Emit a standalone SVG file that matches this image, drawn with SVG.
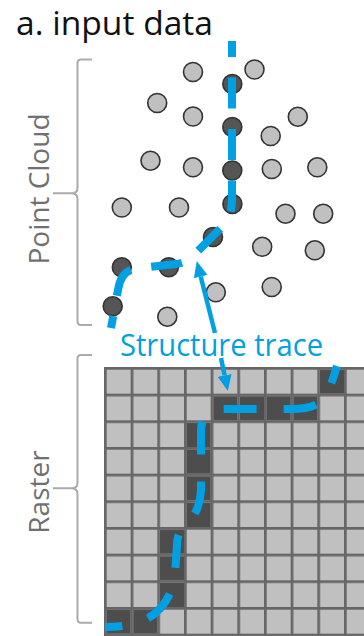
<svg xmlns="http://www.w3.org/2000/svg" width="364" height="636" viewBox="0 0 364 636">
  <defs>
    <style>
      .title { font-family: "Open Sans", "Liberation Sans", sans-serif; font-size: 32px; fill: #111; }
      .side { font-family: "Open Sans", "Liberation Sans", sans-serif; font-size: 28px; fill: #707070; }
      .label { font-family: "Open Sans", "Liberation Sans", sans-serif; font-size: 31px; fill: #00a0e3; }
      .bracket { fill: none; stroke: #ababab; stroke-width: 2; }
      .pt { fill: #c0c0c0; stroke: #333; stroke-width: 1.6; }
      .pt-on { fill: #555; stroke: #333; stroke-width: 1.6; }
      .cell-on { fill: #4d4d4d; }
      .trace { fill: none; stroke: #00a0e3; stroke-width: 8; }
      .trace-cloud { stroke-dasharray: 31 20.5; stroke-dashoffset: 15; }
      .trace-raster { stroke-dasharray: 33 27; stroke-dashoffset: 15; }
      .pointer { fill: none; stroke: #00a0e3; stroke-width: 4.5; }
    </style>
    <pattern id="grid" patternUnits="userSpaceOnUse" x="104" y="367" width="26.667" height="26.667">
      <rect width="26.667" height="26.667" fill="#666"/>
      <rect x="2.7" y="2.7" width="23.967" height="23.967" fill="#c0c0c0"/>
    </pattern>
    <marker id="head" viewBox="0 0 16 14" refX="0" refY="7" markerWidth="16" markerHeight="14" markerUnits="userSpaceOnUse" orient="auto">
      <path d="M0,0 L16,7 L0,14 z" fill="#00a0e3"/>
    </marker>
  </defs>

  <text class="title" x="16" y="34.5" textLength="197" lengthAdjust="spacingAndGlyphs">a. input data</text>

  <!-- side labels with braces -->
  <g id="point-cloud-label">
    <path class="bracket" d="M92,59.5 H81 Q77.5,59.5 77.5,63 V188 Q77.5,193 72,193.3 H53 M72,193.3 Q77.5,193.6 77.5,199 V321 Q77.5,325 81,325 H92"/>
    <text class="side" transform="translate(49,189) rotate(-90)" text-anchor="middle">Point Cloud</text>
  </g>
  <g id="raster-label">
    <path class="bracket" d="M92,355 H81 Q77.5,355 77.5,358.5 V483 Q77.5,488 72,488.3 H53 M72,488.3 Q77.5,488.6 77.5,494 V619 Q77.5,622.7 81,622.7 H92"/>
    <text class="side" transform="translate(49,492) rotate(-90)" text-anchor="middle">Raster</text>
  </g>

  <!-- point cloud -->
  <g id="point-cloud">
    <circle class="pt" cx="193" cy="72" r="9.5"/>
    <circle class="pt" cx="254.5" cy="69.5" r="9.5"/>
    <circle class="pt-on" cx="232.3" cy="84" r="9.5"/>
    <circle class="pt" cx="157.2" cy="103" r="9.5"/>
    <circle class="pt" cx="193" cy="116.5" r="9.5"/>
    <circle class="pt-on" cx="232.3" cy="127" r="9.5"/>
    <circle class="pt" cx="297.8" cy="116.7" r="9.5"/>
    <circle class="pt" cx="270.7" cy="136" r="9.5"/>
    <circle class="pt" cx="150.5" cy="160.7" r="9.5"/>
    <circle class="pt" cx="193" cy="167.3" r="9.5"/>
    <circle class="pt-on" cx="232.3" cy="170.5" r="9.5"/>
    <circle class="pt" cx="271.8" cy="169" r="9.5"/>
    <circle class="pt" cx="317.3" cy="167.3" r="9.5"/>
    <circle class="pt" cx="121.8" cy="207.5" r="9.5"/>
    <circle class="pt" cx="179" cy="207.5" r="9.5"/>
    <circle class="pt-on" cx="232.4" cy="204" r="9.5"/>
    <circle class="pt" cx="285.5" cy="213.7" r="9.5"/>
    <circle class="pt" cx="323.2" cy="213.7" r="9.5"/>
    <circle class="pt-on" cx="213" cy="237" r="9.5"/>
    <circle class="pt" cx="262.2" cy="246.8" r="9.5"/>
    <circle class="pt" cx="314.8" cy="250.3" r="9.5"/>
    <circle class="pt-on" cx="121.8" cy="267.3" r="9.5"/>
    <circle class="pt-on" cx="168.8" cy="267.3" r="9.5"/>
    <circle class="pt" cx="215.8" cy="292.3" r="9.5"/>
    <circle class="pt" cx="271.7" cy="287" r="9.5"/>
    <circle class="pt-on" cx="112.7" cy="306.3" r="9.5"/>
    <circle class="pt" cx="167.3" cy="316.7" r="9.5"/>
  </g>

  <!-- raster grid -->
  <g id="raster">
    <rect x="104" y="367" width="260" height="269" fill="url(#grid)"/>
    <rect class="cell-on" x="320.03" y="369.7" width="23.97" height="23.97"/>
    <rect class="cell-on" x="213.37" y="396.37" width="23.97" height="23.97"/>
    <rect class="cell-on" x="240.03" y="396.37" width="23.97" height="23.97"/>
    <rect class="cell-on" x="266.7" y="396.37" width="23.97" height="23.97"/>
    <rect class="cell-on" x="293.37" y="396.37" width="23.97" height="23.97"/>
    <rect class="cell-on" x="186.7" y="423.03" width="23.97" height="23.97"/>
    <rect class="cell-on" x="186.7" y="449.7" width="23.97" height="23.97"/>
    <rect class="cell-on" x="186.7" y="476.37" width="23.97" height="23.97"/>
    <rect class="cell-on" x="186.7" y="503.03" width="23.97" height="23.97"/>
    <rect class="cell-on" x="160.03" y="529.7" width="23.97" height="23.97"/>
    <rect class="cell-on" x="160.03" y="556.37" width="23.97" height="23.97"/>
    <rect class="cell-on" x="160.03" y="583.03" width="23.97" height="23.97"/>
    <rect class="cell-on" x="106.7" y="609.7" width="23.97" height="23.97"/>
    <rect class="cell-on" x="133.37" y="609.7" width="23.97" height="23.97"/>
  </g>

  <!-- structure traces and pointers -->
  <g id="connectors">
    <path class="trace trace-cloud" d="M232,41 L232,200 C232,215 226,224 218,231 L196,253 C190,259 185,263 176,264 L140,268 C126,269 120,276 118,290 L111,328"/>
    <path class="trace trace-raster" d="M337,366 C332,382 327,400 315,405 C308,409 298,409 290,409 L222,409 C207,409 202,416 201,430 L201,490 C200,505 196,515 186,525 C179,532 177,537 177,545 L175,575 C173,595 160,615 140,622 C128,626 118,627 105,627"/>
    <path class="pointer" marker-end="url(#head)" d="M215,333 L200.7,276.5"/>
    <path class="pointer" marker-end="url(#head)" d="M221,358 L224.6,375.4"/>
  </g>

  <text class="label" x="120" y="356" textLength="203" lengthAdjust="spacingAndGlyphs">Structure trace</text>
</svg>
